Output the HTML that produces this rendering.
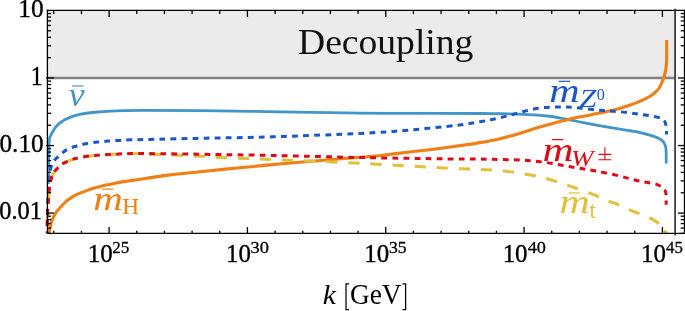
<!DOCTYPE html><html><head><meta charset="utf-8"><title>Chart</title><style>
html,body{margin:0;padding:0;background:#fff}
#c{position:relative;width:685px;height:311px;overflow:hidden;background:#fff;font-family:"Liberation Serif",serif}
.t{position:absolute;white-space:nowrap;line-height:1;font-family:"Liberation Serif",serif}
svg text{font-family:"Liberation Serif",serif}
#c svg{will-change:transform}
.bar{position:absolute;height:1.4px}
</style></head><body><div id="c">
<svg width="685" height="311" viewBox="0 0 685 311" style="position:absolute;left:0;top:0">
<rect x="0" y="0" width="685" height="311" fill="#fff"/>
<rect x="47.4" y="10.3" width="627.7" height="67.70" fill="#ebebeb"/>
<line x1="47.4" y1="78.10" x2="675.1" y2="78.10" stroke="#828282" stroke-width="2.5"/>
<path d="M48.40,184.00C48.42,181.67 48.45,174.83 48.50,170.00C48.55,165.17 48.57,160.00 48.70,155.00C48.83,150.00 49.00,143.17 49.30,140.00C49.60,136.83 49.98,137.30 50.50,136.00C51.02,134.70 51.43,133.80 52.40,132.20C53.37,130.60 54.80,128.12 56.30,126.40C57.80,124.68 59.47,123.25 61.40,121.90C63.33,120.55 65.53,119.38 67.90,118.30C70.27,117.22 72.82,116.20 75.60,115.40C78.38,114.60 80.95,114.07 84.60,113.50C88.25,112.93 93.20,112.40 97.50,112.00C101.80,111.60 106.12,111.33 110.40,111.10C114.68,110.87 117.78,110.72 123.20,110.60C128.62,110.48 130.10,110.40 142.90,110.40C155.70,110.40 177.15,110.37 200.00,110.60C222.85,110.83 253.33,111.38 280.00,111.80C306.67,112.22 333.33,112.83 360.00,113.10C386.67,113.37 420.00,113.33 440.00,113.40C460.00,113.47 470.12,113.45 480.00,113.50C489.88,113.55 492.87,113.60 499.30,113.70C505.73,113.80 512.17,113.87 518.60,114.10C525.03,114.33 532.33,114.70 537.90,115.10C543.47,115.50 547.48,115.87 552.00,116.50C556.52,117.13 560.72,118.07 565.00,118.90C569.28,119.73 571.28,120.25 577.70,121.50C584.12,122.75 594.92,124.87 603.50,126.40C612.08,127.93 623.12,129.67 629.20,130.70C635.28,131.73 635.87,131.65 640.00,132.60C644.13,133.55 650.38,135.13 654.00,136.40C657.62,137.67 659.85,138.77 661.70,140.20C663.55,141.63 664.37,143.23 665.10,145.00C665.83,146.77 665.92,147.73 666.10,150.80C666.28,153.87 666.18,161.30 666.20,163.40" fill="none" stroke="#4195c9" stroke-width="2.8" stroke-linejoin="round"/>
<path d="M48.90,234.00C48.95,233.72 48.93,233.65 49.20,232.30C49.47,230.95 49.97,228.03 50.50,225.90C51.03,223.77 51.53,221.65 52.40,219.50C53.27,217.35 54.52,214.87 55.70,213.00C56.88,211.13 58.22,209.78 59.50,208.30C60.78,206.82 62.10,205.42 63.40,204.10C64.70,202.78 65.87,201.57 67.30,200.40C68.73,199.23 70.38,198.12 72.00,197.10C73.62,196.08 74.57,195.38 77.00,194.30C79.43,193.22 83.38,191.72 86.60,190.60C89.82,189.48 93.08,188.52 96.30,187.60C99.52,186.68 102.95,185.80 105.90,185.10C108.85,184.40 110.98,183.98 114.00,183.40C117.02,182.82 120.67,182.15 124.00,181.60C127.33,181.05 126.58,181.18 134.00,180.10C141.42,179.02 157.50,176.48 168.50,175.10C179.50,173.72 190.47,172.80 200.00,171.80C209.53,170.80 217.70,169.90 225.70,169.10C233.70,168.30 240.67,167.70 248.00,167.00C255.33,166.30 263.03,165.53 269.70,164.90C276.37,164.27 281.28,163.80 288.00,163.20C294.72,162.60 302.67,161.92 310.00,161.30C317.33,160.68 324.73,160.08 332.00,159.50C339.27,158.92 346.27,158.39 353.60,157.80C360.93,157.21 368.62,156.68 376.00,155.95C383.38,155.22 390.60,154.26 397.90,153.40C405.20,152.54 412.52,151.67 419.80,150.80C427.08,149.93 434.23,149.15 441.60,148.20C448.97,147.25 457.60,146.03 464.00,145.10C470.40,144.17 474.12,143.63 480.00,142.60C485.88,141.57 492.87,140.38 499.30,138.90C505.73,137.42 512.17,135.58 518.60,133.70C525.03,131.82 531.47,129.52 537.90,127.60C544.33,125.68 550.77,123.88 557.20,122.20C563.63,120.52 569.37,119.02 576.50,117.50C583.63,115.98 594.15,114.25 600.00,113.10C605.85,111.95 607.43,111.65 611.60,110.60C615.77,109.55 620.52,108.25 625.00,106.80C629.48,105.35 634.17,103.75 638.50,101.90C642.83,100.05 647.65,97.87 651.00,95.70C654.35,93.53 656.70,91.32 658.60,88.90C660.50,86.48 661.33,83.77 662.40,81.20C663.47,78.63 664.40,75.75 665.00,73.50C665.60,71.25 665.73,69.95 666.00,67.70C666.27,65.45 666.48,64.60 666.60,60.00C666.72,55.40 666.68,43.42 666.70,40.10" fill="none" stroke="#f07f14" stroke-width="3.1" stroke-linejoin="round"/>
<path d="M47.35,226.00C47.42,221.67 47.44,208.00 47.80,200.00C48.16,192.00 48.88,183.83 49.50,178.00C50.12,172.17 50.67,167.95 51.50,165.00C52.33,162.05 53.32,161.72 54.50,160.30C55.68,158.88 56.67,158.20 58.60,156.50C60.53,154.80 63.20,151.82 66.10,150.10C69.00,148.38 72.70,147.27 76.00,146.20C79.30,145.13 82.32,144.38 85.90,143.70C89.48,143.02 93.85,142.53 97.50,142.10C101.15,141.67 104.15,141.38 107.80,141.10C111.45,140.82 115.53,140.62 119.40,140.40C123.27,140.18 125.90,139.97 131.00,139.80C136.10,139.63 137.67,139.67 150.00,139.40C162.33,139.13 184.50,138.63 205.00,138.20C225.50,137.77 247.17,137.60 273.00,136.80C298.83,136.00 337.50,134.50 360.00,133.40C382.50,132.30 391.93,131.55 408.00,130.20C424.07,128.85 444.40,126.70 456.40,125.30C468.40,123.90 472.85,123.02 480.00,121.80C487.15,120.58 492.87,119.50 499.30,118.00C505.73,116.50 512.17,114.42 518.60,112.80C525.03,111.18 531.47,109.27 537.90,108.30C544.33,107.33 550.77,107.10 557.20,107.00C563.63,106.90 569.37,107.15 576.50,107.70C583.63,108.25 592.87,109.63 600.00,110.30C607.13,110.97 612.88,111.08 619.30,111.70C625.72,112.32 632.40,113.13 638.50,114.00C644.60,114.87 651.72,115.90 655.90,116.90C660.08,117.90 661.90,118.52 663.60,120.00C665.30,121.48 665.62,123.38 666.10,125.80C666.58,128.22 666.43,133.05 666.50,134.50" fill="none" stroke="#1a56c8" stroke-width="3" stroke-dasharray="5.8 5.25" stroke-dashoffset="10.8"/>
<path d="M47.00,233.00C47.08,230.00 47.25,220.50 47.50,215.00C47.75,209.50 48.17,204.50 48.50,200.00C48.83,195.50 49.07,191.47 49.50,188.00C49.93,184.53 50.35,181.78 51.10,179.20C51.85,176.62 52.82,174.43 54.00,172.50C55.18,170.57 56.53,169.18 58.20,167.60C59.87,166.02 61.75,164.32 64.00,163.00C66.25,161.68 69.55,160.50 71.70,159.70C73.85,158.90 74.32,158.77 76.90,158.20C79.48,157.63 83.77,156.80 87.20,156.30C90.63,155.80 94.07,155.48 97.50,155.20C100.93,154.92 104.15,154.80 107.80,154.60C111.45,154.40 115.53,154.17 119.40,154.00C123.27,153.83 124.23,153.50 131.00,153.60C137.77,153.70 148.50,154.15 160.00,154.60C171.50,155.05 189.67,155.82 200.00,156.30C210.33,156.78 214.67,157.15 222.00,157.50C229.33,157.85 236.67,158.10 244.00,158.40C251.33,158.70 246.67,158.48 266.00,159.30C285.33,160.12 331.00,161.88 360.00,163.30C389.00,164.72 420.00,166.77 440.00,167.80C460.00,168.83 470.12,169.05 480.00,169.50C489.88,169.95 492.87,169.92 499.30,170.50C505.73,171.08 512.17,172.02 518.60,173.00C525.03,173.98 531.47,174.95 537.90,176.40C544.33,177.85 550.77,179.70 557.20,181.70C563.63,183.70 570.07,186.10 576.50,188.40C582.93,190.70 590.60,193.43 595.80,195.50C601.00,197.57 603.95,199.27 607.70,200.80C611.45,202.33 614.83,203.25 618.30,204.70C621.77,206.15 625.13,208.07 628.50,209.50C631.87,210.93 635.22,212.05 638.50,213.30C641.78,214.55 644.98,215.42 648.20,217.00C651.42,218.58 655.23,220.35 657.80,222.80C660.37,225.25 662.23,230.00 663.60,231.70C664.97,233.40 665.60,232.78 666.00,233.00" fill="none" stroke="#e2c03c" stroke-width="3" stroke-dasharray="11.3 10.8" stroke-dashoffset="14.9"/>
<path d="M47.00,233.00C47.08,230.00 47.25,220.50 47.50,215.00C47.75,209.50 48.17,204.50 48.50,200.00C48.83,195.50 49.07,191.47 49.50,188.00C49.93,184.53 50.35,181.78 51.10,179.20C51.85,176.62 52.82,174.43 54.00,172.50C55.18,170.57 56.53,169.18 58.20,167.60C59.87,166.02 61.75,164.32 64.00,163.00C66.25,161.68 69.55,160.50 71.70,159.70C73.85,158.90 74.32,158.77 76.90,158.20C79.48,157.63 83.77,156.80 87.20,156.30C90.63,155.80 94.07,155.48 97.50,155.20C100.93,154.92 104.15,154.80 107.80,154.60C111.45,154.40 115.53,154.17 119.40,154.00C123.27,153.83 124.23,153.65 131.00,153.60C137.77,153.55 147.67,153.58 160.00,153.70C172.33,153.82 186.00,154.00 205.00,154.30C224.00,154.60 248.17,154.97 274.00,155.50C299.83,156.03 332.33,156.95 360.00,157.50C387.67,158.05 420.00,158.53 440.00,158.80C460.00,159.07 470.12,158.98 480.00,159.10C489.88,159.22 492.87,159.35 499.30,159.50C505.73,159.65 512.17,159.68 518.60,160.00C525.03,160.32 531.47,160.68 537.90,161.40C544.33,162.12 550.77,163.23 557.20,164.30C563.63,165.37 570.07,166.68 576.50,167.80C582.93,168.92 588.67,169.65 595.80,171.00C602.93,172.35 612.82,174.40 619.30,175.90C625.78,177.40 630.20,178.93 634.70,180.00C639.20,181.07 642.45,181.50 646.30,182.30C650.15,183.10 654.75,183.58 657.80,184.80C660.85,186.02 663.22,187.83 664.60,189.60C665.98,191.37 665.85,192.88 666.10,195.40C666.35,197.92 666.10,203.15 666.10,204.70" fill="none" stroke="#dc0a16" stroke-width="3" stroke-dasharray="5.8 5.25" stroke-dashoffset="4.05"/>
<path d="M664.0,230.6L666.9,233.2" stroke="#e2c03c" stroke-width="3" fill="none"/>
<g stroke="#000" stroke-width="1.3" fill="none">
<path d="M47.4,9.65 V234.05"/>
<path d="M46.75,10.3 H685"/>
<path d="M46.75,233.4 H685"/>
<path d="M684.5,10.3 V233.4"/>
<path d="M675.1,8.8 V235.6" stroke="#333" stroke-width="1.7"/>
<path d="M53.77,233.4 v-2.6"/>
<path d="M53.77,10.3 v3.8"/>
<path d="M81.44,233.4 v-2.6"/>
<path d="M81.44,10.3 v3.8"/>
<path d="M109.10,233.4 v-6.3"/>
<path d="M109.10,10.3 v6.7"/>
<path d="M136.76,233.4 v-2.6"/>
<path d="M136.76,10.3 v3.8"/>
<path d="M164.43,233.4 v-2.6"/>
<path d="M164.43,10.3 v3.8"/>
<path d="M192.09,233.4 v-2.6"/>
<path d="M192.09,10.3 v3.8"/>
<path d="M219.76,233.4 v-2.6"/>
<path d="M219.76,10.3 v3.8"/>
<path d="M247.42,233.4 v-6.3"/>
<path d="M247.42,10.3 v6.7"/>
<path d="M275.09,233.4 v-2.6"/>
<path d="M275.09,10.3 v3.8"/>
<path d="M302.75,233.4 v-2.6"/>
<path d="M302.75,10.3 v3.8"/>
<path d="M330.42,233.4 v-2.6"/>
<path d="M330.42,10.3 v3.8"/>
<path d="M358.08,233.4 v-2.6"/>
<path d="M358.08,10.3 v3.8"/>
<path d="M385.75,233.4 v-6.3"/>
<path d="M385.75,10.3 v6.7"/>
<path d="M413.41,233.4 v-2.6"/>
<path d="M413.41,10.3 v3.8"/>
<path d="M441.08,233.4 v-2.6"/>
<path d="M441.08,10.3 v3.8"/>
<path d="M468.75,233.4 v-2.6"/>
<path d="M468.75,10.3 v3.8"/>
<path d="M496.41,233.4 v-2.6"/>
<path d="M496.41,10.3 v3.8"/>
<path d="M524.07,233.4 v-6.3"/>
<path d="M524.07,10.3 v6.7"/>
<path d="M551.74,233.4 v-2.6"/>
<path d="M551.74,10.3 v3.8"/>
<path d="M579.40,233.4 v-2.6"/>
<path d="M579.40,10.3 v3.8"/>
<path d="M607.07,233.4 v-2.6"/>
<path d="M607.07,10.3 v3.8"/>
<path d="M634.74,233.4 v-2.6"/>
<path d="M634.74,10.3 v3.8"/>
<path d="M662.40,233.4 v-6.3"/>
<path d="M662.40,10.3 v6.7"/>
<path d="M46.1,78.00 H53.9"/>
<path d="M684.5,78.00 h-6.5"/>
<path d="M47.4,57.67 H51.1"/>
<path d="M684.5,57.67 h-3.8"/>
<path d="M47.4,45.77 H51.1"/>
<path d="M684.5,45.77 h-3.8"/>
<path d="M47.4,37.33 H51.1"/>
<path d="M684.5,37.33 h-3.8"/>
<path d="M47.4,30.78 H51.1"/>
<path d="M684.5,30.78 h-3.8"/>
<path d="M47.4,25.44 H51.1"/>
<path d="M684.5,25.44 h-3.8"/>
<path d="M47.4,20.91 H51.1"/>
<path d="M684.5,20.91 h-3.8"/>
<path d="M47.4,17.00 H51.1"/>
<path d="M684.5,17.00 h-3.8"/>
<path d="M47.4,13.54 H51.1"/>
<path d="M684.5,13.54 h-3.8"/>
<path d="M46.1,145.55 H53.9"/>
<path d="M684.5,145.55 h-6.5"/>
<path d="M47.4,125.22 H51.1"/>
<path d="M684.5,125.22 h-3.8"/>
<path d="M47.4,113.32 H51.1"/>
<path d="M684.5,113.32 h-3.8"/>
<path d="M47.4,104.88 H51.1"/>
<path d="M684.5,104.88 h-3.8"/>
<path d="M47.4,98.33 H51.1"/>
<path d="M684.5,98.33 h-3.8"/>
<path d="M47.4,92.99 H51.1"/>
<path d="M684.5,92.99 h-3.8"/>
<path d="M47.4,88.46 H51.1"/>
<path d="M684.5,88.46 h-3.8"/>
<path d="M47.4,84.55 H51.1"/>
<path d="M684.5,84.55 h-3.8"/>
<path d="M47.4,81.09 H51.1"/>
<path d="M684.5,81.09 h-3.8"/>
<path d="M46.1,213.10 H53.9"/>
<path d="M684.5,213.10 h-6.5"/>
<path d="M47.4,192.77 H51.1"/>
<path d="M684.5,192.77 h-3.8"/>
<path d="M47.4,180.87 H51.1"/>
<path d="M684.5,180.87 h-3.8"/>
<path d="M47.4,172.43 H51.1"/>
<path d="M684.5,172.43 h-3.8"/>
<path d="M47.4,165.88 H51.1"/>
<path d="M684.5,165.88 h-3.8"/>
<path d="M47.4,160.54 H51.1"/>
<path d="M684.5,160.54 h-3.8"/>
<path d="M47.4,156.01 H51.1"/>
<path d="M684.5,156.01 h-3.8"/>
<path d="M47.4,152.10 H51.1"/>
<path d="M684.5,152.10 h-3.8"/>
<path d="M47.4,148.64 H51.1"/>
<path d="M684.5,148.64 h-3.8"/>
<path d="M47.4,233.43 H51.1"/>
<path d="M684.5,233.43 h-3.8"/>
<path d="M47.4,228.09 H51.1"/>
<path d="M684.5,228.09 h-3.8"/>
<path d="M47.4,223.56 H51.1"/>
<path d="M684.5,223.56 h-3.8"/>
<path d="M47.4,219.65 H51.1"/>
<path d="M684.5,219.65 h-3.8"/>
<path d="M47.4,216.19 H51.1"/>
<path d="M684.5,216.19 h-3.8"/>
</g>
<text transform="translate(18.31,16.74) scale(1.0161,1.0294)" font-size="25" fill="#000" stroke="#000" stroke-width="0.35">10</text>
<text transform="translate(30.77,84.60) scale(0.9486,1.0606)" font-size="25" fill="#000" stroke="#000" stroke-width="0.35">1</text>
<text transform="translate(-0.51,151.84) scale(1.0108,1.0294)" font-size="25" fill="#000" stroke="#000" stroke-width="0.35">0.10</text>
<text transform="translate(-0.67,219.44) scale(0.9745,1.0235)" font-size="25" fill="#000" stroke="#000" stroke-width="0.35">0.01</text>
<text transform="translate(87.66,262.14) scale(0.9977,1.0353)" font-size="25" fill="#000" stroke="#000" stroke-width="0.35">10</text>
<text transform="translate(112.29,253.16) scale(0.9515,0.9796)" font-size="18" fill="#000" stroke="#000" stroke-width="0.3">25</text>
<text transform="translate(225.98,262.14) scale(0.9977,1.0353)" font-size="25" fill="#000" stroke="#000" stroke-width="0.35">10</text>
<text transform="translate(250.56,253.16) scale(1.0242,0.9796)" font-size="18" fill="#000" stroke="#000" stroke-width="0.3">30</text>
<text transform="translate(364.31,262.14) scale(0.9977,1.0353)" font-size="25" fill="#000" stroke="#000" stroke-width="0.35">10</text>
<text transform="translate(388.91,253.16) scale(0.9818,0.9796)" font-size="18" fill="#000" stroke="#000" stroke-width="0.3">35</text>
<text transform="translate(502.63,262.14) scale(0.9977,1.0353)" font-size="25" fill="#000" stroke="#000" stroke-width="0.35">10</text>
<text transform="translate(527.72,253.16) scale(1.0118,0.9796)" font-size="18" fill="#000" stroke="#000" stroke-width="0.3">40</text>
<text transform="translate(640.96,262.14) scale(0.9977,1.0353)" font-size="25" fill="#000" stroke="#000" stroke-width="0.35">10</text>
<text transform="translate(666.07,253.16) scale(0.9353,0.9796)" font-size="18" fill="#000" stroke="#000" stroke-width="0.3">45</text>
<text transform="translate(322.78,303.90) scale(1.0957,0.9920)" font-size="27" fill="#000" font-style="italic">k</text>
<text transform="translate(349.88,304.06) scale(1.0151,1.0757)" font-size="27" fill="#000">GeV</text>
<text transform="translate(298.01,53.72) scale(0.9897,0.9669)" font-size="38" fill="#111">Decoupling</text>
<text transform="translate(68.76,106.15) scale(1.0807,0.9935)" font-size="33" fill="#4195c9" font-style="italic">v</text>
<text transform="translate(549.31,101.50) scale(1.2753,1.0000)" font-size="33" fill="#1a56c8" font-style="italic">m</text>
<text transform="translate(542.47,160.90) scale(1.3035,1.0387)" font-size="33" fill="#dc0a16" font-style="italic">m</text>
<text transform="translate(559.61,213.40) scale(1.2706,0.9935)" font-size="33" fill="#e2c03c" font-style="italic">m</text>
<text transform="translate(93.25,209.70) scale(1.2424,0.9935)" font-size="33" fill="#f07f14" font-style="italic">m</text>
<text transform="translate(579.59,107.30) scale(1.2370,1.0062)" font-size="24.5" fill="#1a56c8" font-style="italic">Z</text>
<text transform="translate(596.71,99.96) scale(0.9793,0.9689)" font-size="16.5" fill="#1a56c8">0</text>
<text transform="translate(571.07,166.21) scale(1.1024,0.9758)" font-size="24.5" fill="#dc0a16" font-style="italic">W</text>
<text transform="translate(589.25,217.77) scale(1.0000,0.9286)" font-size="24.5" fill="#e2c03c">t</text>
<text transform="translate(122.35,214.20) scale(0.9935,0.9935)" font-size="23.5" fill="#f07f14">H</text>
<line x1="71.9" y1="86" x2="83.4" y2="86" stroke="#4195c9" stroke-width="1.2"/>
<line x1="558.6" y1="81.3" x2="570.2" y2="81.3" stroke="#1a56c8" stroke-width="1.2"/>
<line x1="551.9" y1="139.6" x2="563.4" y2="139.6" stroke="#dc0a16" stroke-width="1.2"/>
<line x1="568.3" y1="192.9" x2="579.9" y2="192.9" stroke="#e2c03c" stroke-width="1.2"/>
<line x1="101.9" y1="189.1" x2="113.4" y2="189.1" stroke="#f07f14" stroke-width="1.2"/>
<path d="M598.4,154.3H611.4M604.9,147.2V159.2M598.4,159.7H611.4" stroke="#dc0a16" stroke-width="1.15" fill="none"/>
<path d="M349.1,283.9H346V309.7H349.1M402.5,283.9H405.6V309.7H402.5" stroke="#000" stroke-width="1.25" fill="none"/>
</svg>

</div></body></html>
